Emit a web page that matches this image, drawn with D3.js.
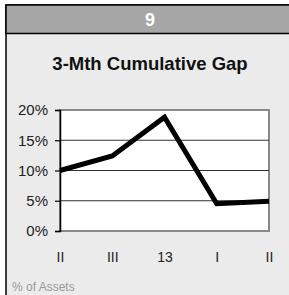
<!DOCTYPE html>
<html>
<head>
<meta charset="utf-8">
<script src="https://cdn.jsdelivr.net/npm/d3@7"></script>
<style>
  body { margin: 0; background: #fff; }
  svg { display: block; font-family: "Liberation Sans", Arial, sans-serif; }
</style>
</head>
<body>
<div id="chart"></div>
<script>
// data
var periods = ["II", "III", "13", "I", "II"];
var gapValues = [10.0, 12.4, 18.8, 4.5, 4.9];
var yTicks = [0, 5, 10, 15, 20];
var headerText = "9";
var titleText = "3-Mth Cumulative Gap";
var noteText = "% of Assets";

var W = 289, H = 295;
var plot = {left: 60, right: 269, top: 110, bottom: 231};

var svg = d3.select("#chart").append("svg")
  .attr("width", W)
  .attr("height", H);

// panel + header band
svg.append("rect")
  .attr("x", 6).attr("y", 5)
  .attr("width", W).attr("height", H)
  .attr("fill", "#ebebec")
  .attr("stroke", "#000").attr("stroke-width", 1.5);

svg.append("rect")
  .attr("x", 6).attr("y", 5)
  .attr("width", W).attr("height", 28.5)
  .attr("fill", "#a6a6a6")
  .attr("stroke", "#000").attr("stroke-width", 1.5);

svg.append("text")
  .attr("x", 150).attr("y", 26)
  .attr("text-anchor", "middle")
  .attr("font-size", 18).attr("font-weight", "bold")
  .attr("fill", "#fff")
  .text(headerText);

svg.append("text")
  .attr("x", 150).attr("y", 70)
  .attr("text-anchor", "middle")
  .attr("font-size", 18.5).attr("font-weight", "bold")
  .attr("fill", "#111")
  .text(titleText);

// scales
var x = d3.scalePoint()
  .domain(d3.range(periods.length))
  .range([plot.left, plot.right]);

var y = d3.scaleLinear()
  .domain([0, 20])
  .range([plot.bottom, plot.top]);

// plot background
svg.append("rect")
  .attr("x", plot.left).attr("y", plot.top)
  .attr("width", plot.right - plot.left)
  .attr("height", plot.bottom - plot.top)
  .attr("fill", "#fff")
  .attr("stroke", "#8a8a8a").attr("stroke-width", 2);

// gridlines
svg.append("g")
  .selectAll("line")
  .data(yTicks.filter(function(d){ return d > 0 && d < 20; }))
  .enter().append("line")
  .attr("x1", plot.left).attr("x2", plot.right)
  .attr("y1", function(d){ return y(d); })
  .attr("y2", function(d){ return y(d); })
  .attr("stroke", "#333").attr("stroke-width", 1);

// y axis
var yAxis = d3.axisLeft(y)
  .tickValues(yTicks)
  .tickSize(5)
  .tickPadding(7)
  .tickFormat(function(d){ return d + "%"; });

var gy = svg.append("g")
  .attr("transform", "translate(" + plot.left + ",0)")
  .call(yAxis);
gy.select(".domain").attr("stroke", "#000").attr("stroke-width", 1.5);
gy.selectAll(".tick line").attr("stroke", "#000").attr("stroke-width", 1.2);
gy.selectAll("text")
  .attr("font-size", 15)
  .attr("font-family", "Liberation Sans, Arial, sans-serif")
  .attr("fill", "#222");

// x labels
var xAxis = d3.axisBottom(x)
  .tickSize(0)
  .tickPadding(0)
  .tickFormat(function(i){ return periods[i]; });

var gx = svg.append("g")
  .attr("transform", "translate(0," + 252 + ")")
  .call(xAxis);
gx.select(".domain").remove();
gx.selectAll("text")
  .attr("font-size", 14)
  .attr("font-family", "Liberation Sans, Arial, sans-serif")
  .attr("fill", "#222");

// the line
var line = d3.line()
  .x(function(d, i){ return x(i); })
  .y(function(d){ return y(d); });

svg.append("path")
  .datum(gapValues)
  .attr("d", line)
  .attr("fill", "none")
  .attr("stroke", "#000")
  .attr("stroke-width", 5)
  .attr("stroke-linejoin", "miter");

svg.append("text")
  .attr("x", 12).attr("y", 291)
  .attr("font-size", 12)
  .attr("fill", "#999")
  .text(noteText);
</script>
</body>
</html>
